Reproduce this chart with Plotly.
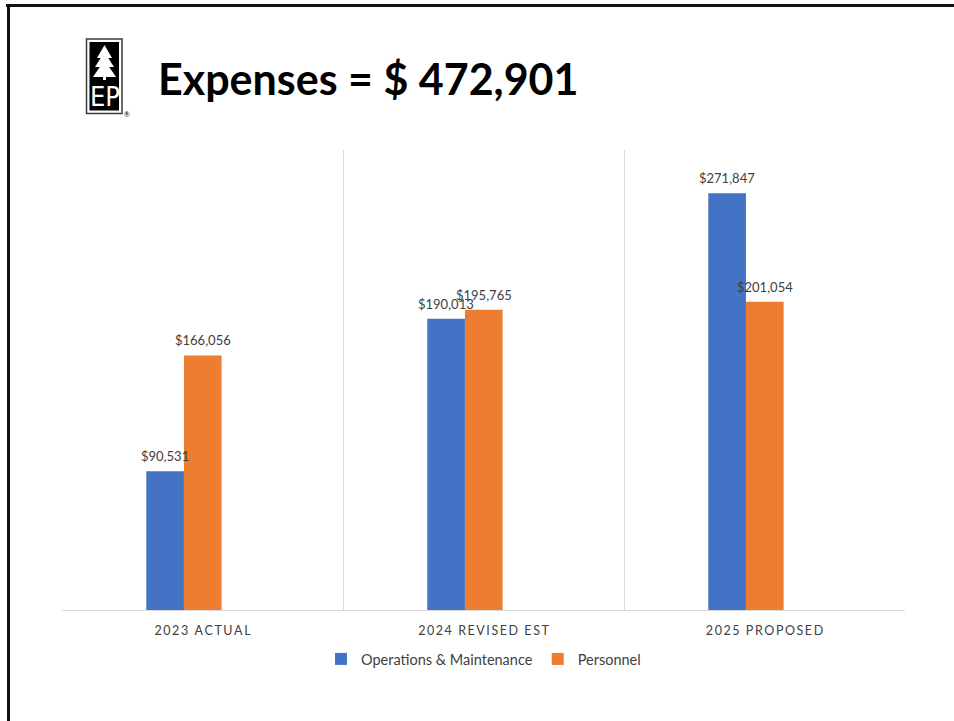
import plotly.graph_objects as go

# Expense data by budget period
categories = ["2023 ACTUAL", "2024 REVISED EST", "2025 PROPOSED"]
operations_maintenance = [90531, 190013, 271847]
personnel = [166056, 195765, 201054]
total_expenses = 472901

W, H = 954, 721
M_L, M_R, M_T, M_B = 62, 49, 150, 111
PW, PH = W - M_L - M_R, H - M_T - M_B
CAT_PX = PW / len(categories)

FONT = "Lato, 'Open Sans', sans-serif"
TXT = "#404040"

BAR_W = 0.134
OFFSETS = [-0.2, -0.2 + BAR_W]


def px(x):
    return (x - M_L) / PW


def py(y):
    return (H - M_B - y) / PH


def spaced(s):
    return "\u2009".join(s)


fig = go.Figure()
series = [("Operations & Maintenance", operations_maintenance, "#4472C4"),
          ("Personnel", personnel, "#ED7D31")]
annotations = []
for (name, vals, color), off in zip(series, OFFSETS):
    fig.add_trace(go.Bar(
        name=name, x=categories, y=vals,
        width=BAR_W, offset=off,
        marker=dict(color=color, line=dict(width=0)),
    ))
    shift = (off + BAR_W / 2) * CAT_PX
    for c, v in zip(categories, vals):
        annotations.append(dict(
            text="${:,}".format(v), x=c, y=v, xref="x", yref="y",
            xshift=shift, yshift=15, xanchor="center", yanchor="middle",
            showarrow=False, font=dict(family=FONT, size=13, color=TXT)))

shapes = []
# slide border (top and left edges)
shapes.append(dict(type="line", xref="paper", yref="paper",
                   x0=px(6), x1=px(W + 5), y0=py(5.5), y1=py(5.5),
                   line=dict(color="#111111", width=3)))
shapes.append(dict(type="line", xref="paper", yref="paper",
                   x0=px(8.5), x1=px(8.5), y0=py(4), y1=py(H + 5),
                   line=dict(color="#111111", width=3)))
# logo frame
shapes.append(dict(type="rect", xref="paper", yref="paper",
                   x0=px(86.5), x1=px(122), y0=py(39), y1=py(113.5),
                   line=dict(color="#3a3a3a", width=1.5), fillcolor="white"))
shapes.append(dict(type="rect", xref="paper", yref="paper",
                   x0=px(89.5), x1=px(119), y0=py(42), y1=py(110.5),
                   line=dict(width=0), fillcolor="#000000"))
# tree tiers
tiers = [(45, 58, 97, 112), (52, 67, 95, 114), (60, 77, 93, 116)]
for top, bot, lx, rx in tiers:
    cx = (lx + rx) / 2
    path = "M {} {} L {} {} L {} {} Z".format(
        px(cx), py(top), px(lx), py(bot), px(rx), py(bot))
    shapes.append(dict(type="path", xref="paper", yref="paper", path=path,
                       fillcolor="white", line=dict(width=0)))
shapes.append(dict(type="rect", xref="paper", yref="paper",
                   x0=px(103), x1=px(106), y0=py(76), y1=py(80),
                   fillcolor="white", line=dict(width=0)))

annotations += [
    dict(text="Expenses = $ {:,}".format(total_expenses), xref="paper", yref="paper",
         x=px(156), y=py(78), xanchor="left", yanchor="middle", showarrow=False,
         font=dict(family=FONT, size=43, color="#000000", weight="bold")),
    dict(text="EP", xref="paper", yref="paper",
         x=px(104.5), y=py(96), xanchor="center", yanchor="middle", showarrow=False,
         font=dict(family="'Liberation Sans Narrow', 'DejaVu Sans Condensed', sans-serif",
                   size=27, color="white")),
    dict(text="®", xref="paper", yref="paper",
         x=px(127), y=py(113.5), xanchor="center", yanchor="middle", showarrow=False,
         font=dict(family=FONT, size=7, color="#000000")),
]

fig.update_layout(
    width=W, height=H,
    margin=dict(l=M_L, r=M_R, t=M_T, b=M_B),
    paper_bgcolor="white", plot_bgcolor="white",
    barmode="overlay",
    font=dict(family=FONT, color=TXT),
    showlegend=True,
    legend=dict(orientation="h", x=0.5, xanchor="center", y=py(659), yanchor="middle",
                font=dict(family=FONT, size=14.5, color=TXT), itemwidth=30,
                traceorder="normal", bgcolor="rgba(0,0,0,0)"),
    shapes=shapes, annotations=annotations,
)
fig.update_xaxes(
    type="category", tickmode="array", tickvals=categories,
    ticktext=[spaced(c) for c in categories],
    tickson="boundaries", showgrid=True, gridcolor="#d9d9d9", gridwidth=1,
    showline=True, linecolor="#d9d9d9", linewidth=1, ticks="", ticklen=0,
    ticklabelstandoff=9,
    tickfont=dict(family=FONT, size=12.5, color=TXT),
    range=[-0.5, 2.5], mirror=False, zeroline=False,
)
fig.update_yaxes(range=[0, 300000], showgrid=False, showticklabels=False,
                 zeroline=False, showline=False, ticks="")

fig.write_html("out.html")
